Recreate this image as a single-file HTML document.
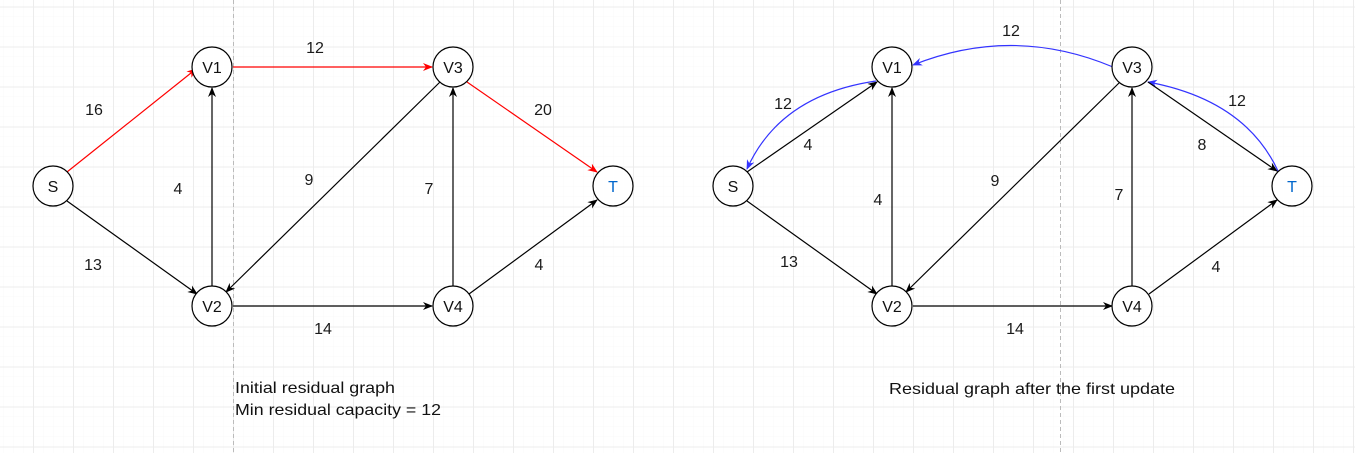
<!DOCTYPE html>
<html><head><meta charset="utf-8"><style>
html,body{margin:0;padding:0;background:#fff;}
svg{display:block;}
text{font-family:"Liberation Sans",Arial,sans-serif;}
</style></head><body>
<svg width="1355" height="453" viewBox="0 0 1355 453" xmlns="http://www.w3.org/2000/svg">
<defs>
<pattern id="minor" x="3" y="6.5" width="10" height="10" patternUnits="userSpaceOnUse">
<path d="M0 0H10M0 0V10" stroke="#f8f8f8" stroke-width="1" fill="none"/>
</pattern>
<pattern id="major" x="33" y="6.5" width="40" height="40" patternUnits="userSpaceOnUse">
<path d="M0 0.5H40M0.5 0V40" stroke="#ececec" stroke-width="1" fill="none"/>
</pattern>
<marker id="ak" markerWidth="10" markerHeight="10" refX="9" refY="5" orient="auto" markerUnits="userSpaceOnUse"><path d="M0,1 L10,5 L0,9 L3,5 Z" fill="#000"/></marker>
<marker id="ar" markerWidth="10" markerHeight="10" refX="9" refY="5" orient="auto" markerUnits="userSpaceOnUse"><path d="M0,1 L10,5 L0,9 L3,5 Z" fill="#f00"/></marker>
<marker id="ab" markerWidth="10" markerHeight="10" refX="9" refY="5" orient="auto" markerUnits="userSpaceOnUse"><path d="M0,1 L10,5 L0,9 L3,5 Z" fill="#33f"/></marker>
</defs>
<rect width="1355" height="453" fill="url(#minor)"/>
<rect width="1355" height="453" fill="url(#major)"/>
<line x1="233.5" y1="0" x2="233.5" y2="453" stroke="#bbb" stroke-dasharray="4,3"/>
<line x1="1060.5" y1="0" x2="1060.5" y2="453" stroke="#bbb" stroke-dasharray="4,3"/>

<g fill="none" stroke-width="1.2">
<line x1="67" y1="172" x2="196" y2="69" stroke="#f00" marker-end="url(#ar)"/>
<line x1="233" y1="67" x2="432" y2="67" stroke="#f00" marker-end="url(#ar)"/>
<line x1="467" y1="82" x2="597" y2="172" stroke="#f00" marker-end="url(#ar)"/>
<line x1="67" y1="201" x2="197" y2="294" stroke="#000" marker-end="url(#ak)"/>
<line x1="212" y1="286" x2="212" y2="88" stroke="#000" marker-end="url(#ak)"/>
<line x1="440" y1="82" x2="226" y2="292" stroke="#000" marker-end="url(#ak)"/>
<line x1="453" y1="286" x2="453" y2="88" stroke="#000" marker-end="url(#ak)"/>
<line x1="233" y1="306" x2="432" y2="306" stroke="#000" marker-end="url(#ak)"/>
<line x1="469" y1="294" x2="597" y2="200" stroke="#000" marker-end="url(#ak)"/>
<path d="M1113 67 Q1013 25 913 65" stroke="#33f" marker-end="url(#ab)"/>
<path d="M876 81 Q780 95 747 169" stroke="#33f" marker-end="url(#ab)"/>
<path d="M1278 171 Q1245 100 1148 82" stroke="#33f" marker-end="url(#ab)"/>
<line x1="747" y1="172" x2="877" y2="82" stroke="#000" marker-end="url(#ak)"/>
<line x1="1148" y1="82" x2="1277" y2="171" stroke="#000" marker-end="url(#ak)"/>
<line x1="747" y1="201" x2="877" y2="294" stroke="#000" marker-end="url(#ak)"/>
<line x1="892" y1="286" x2="892" y2="88" stroke="#000" marker-end="url(#ak)"/>
<line x1="1120" y1="82" x2="906" y2="292" stroke="#000" marker-end="url(#ak)"/>
<line x1="1132" y1="286" x2="1132" y2="88" stroke="#000" marker-end="url(#ak)"/>
<line x1="913" y1="306" x2="1112" y2="306" stroke="#000" marker-end="url(#ak)"/>
<line x1="1149" y1="294" x2="1277" y2="200" stroke="#000" marker-end="url(#ak)"/>
</g>

<g fill="#fff" stroke="#000" stroke-width="1.2">
<circle cx="53" cy="186" r="20"/><circle cx="212" cy="67" r="20"/><circle cx="212" cy="306" r="20"/>
<circle cx="453" cy="67" r="20"/><circle cx="453" cy="306" r="20"/><circle cx="613" cy="186" r="20"/>
<circle cx="733" cy="186" r="20"/><circle cx="892" cy="67" r="20"/><circle cx="892" cy="306" r="20"/>
<circle cx="1132" cy="67" r="20"/><circle cx="1132" cy="306" r="20"/><circle cx="1292" cy="186" r="20"/>
</g>

<g font-size="16" text-anchor="middle" fill="#111">
<text x="53" y="192">S</text><text x="212" y="73">V1</text><text x="212" y="312">V2</text>
<text x="453" y="73">V3</text><text x="453" y="312">V4</text><text x="613" y="192" fill="#06c">T</text>
<text x="733" y="192">S</text><text x="892" y="73">V1</text><text x="892" y="312">V2</text>
<text x="1132" y="73">V3</text><text x="1132" y="312">V4</text><text x="1292" y="192" fill="#06c">T</text>
</g>
<g font-size="16" text-anchor="middle" fill="#1a1a1a">
<text x="94" y="115">16</text><text x="315" y="53">12</text><text x="543" y="115">20</text>
<text x="178" y="194">4</text><text x="309" y="185">9</text><text x="429" y="194">7</text>
<text x="93" y="270">13</text><text x="539" y="270">4</text><text x="323" y="334">14</text>
<text x="1011" y="36">12</text><text x="783" y="109">12</text><text x="808" y="150">4</text>
<text x="1237" y="106">12</text><text x="1202" y="150">8</text>
<text x="878" y="205">4</text><text x="995" y="186">9</text><text x="1119" y="200">7</text>
<text x="789" y="267">13</text><text x="1216" y="272">4</text><text x="1015" y="334">14</text>
</g>
<g font-size="16" fill="#111">
<text x="235" y="393" textLength="160" lengthAdjust="spacingAndGlyphs">Initial residual graph</text>
<text x="235" y="415" textLength="206" lengthAdjust="spacingAndGlyphs">Min residual capacity = 12</text>
<text x="889" y="394" textLength="286" lengthAdjust="spacingAndGlyphs">Residual graph after the first update</text>
</g>
</svg>
</body></html>
